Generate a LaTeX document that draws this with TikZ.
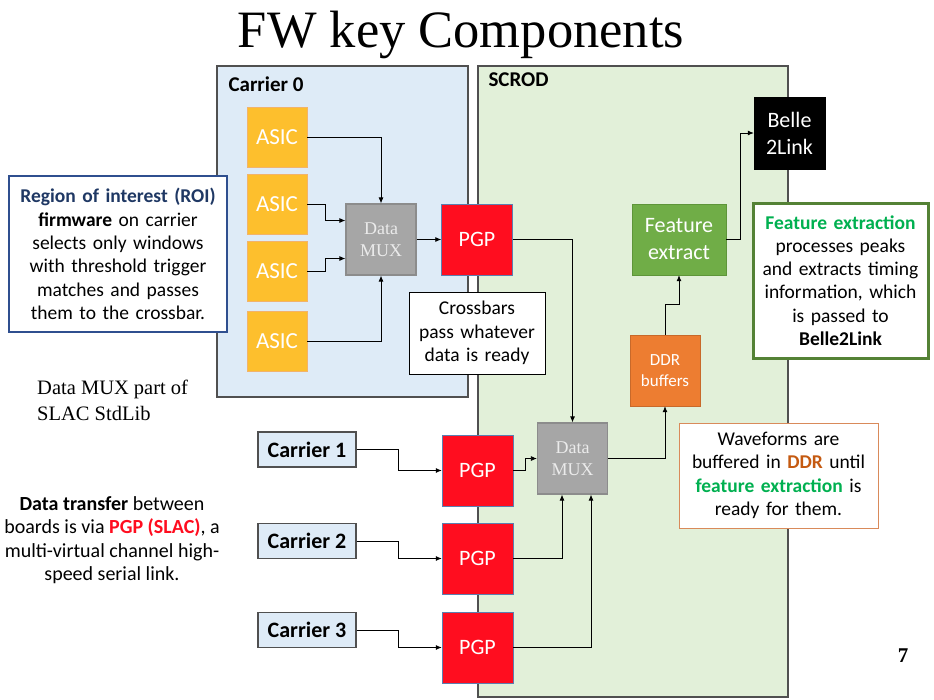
\documentclass[tikz,border=0pt]{standalone}
\usepackage{fontspec}
\setmainfont{Carlito}
\newfontfamily\serifrm{Liberation Serif}
\usetikzlibrary{arrows.meta}
\definecolor{carrierblue}{HTML}{DEEBF7}
\definecolor{scrodgreen}{HTML}{E2F0D9}
\definecolor{frameedge}{HTML}{505050}
\definecolor{asicorange}{HTML}{FDBF2D}
\definecolor{asicedge}{HTML}{F2B36A}
\definecolor{muxgray}{HTML}{A6A6A6}
\definecolor{muxedge}{HTML}{8C8C8C}
\definecolor{pgpred}{HTML}{FF0D1F}
\definecolor{pgpedge}{HTML}{5B7FB0}
\definecolor{ddrorange}{HTML}{ED7D31}
\definecolor{ddredge}{HTML}{C8692A}
\definecolor{fegreen}{HTML}{70AD47}
\definecolor{feedge}{HTML}{5E9539}
\definecolor{roiblue}{HTML}{1F3864}
\definecolor{roiedge}{HTML}{2F4F8F}
\definecolor{notegreen}{HTML}{00B050}
\definecolor{noteedge}{HTML}{548235}
\definecolor{wavedge}{HTML}{D98A5A}
\definecolor{ddrtext}{HTML}{C55A11}
\definecolor{pgptext}{HTML}{FF0D1F}
\tikzset{
  fwbox/.style={
    draw,
    inner sep=0pt,
    align=center,
    text=white,
    font=\fontsize{22}{27}\selectfont
  },
  asicbox/.style={
    fwbox,
    fill=asicorange,
    draw=asicedge,
    minimum width=60pt,
    minimum height=60pt,
    font=\fontsize{23}{27}\selectfont
  },
  muxbox/.style={
    fwbox,
    fill=muxgray,
    draw=muxedge,
    line width=1.2pt,
    text=white!92!black,
    minimum width=70pt,
    minimum height=71pt,
    font=\serifrm\fontsize{18}{21.5}\selectfont
  },
  pgpbox/.style={
    fwbox,
    fill=pgpred,
    draw=pgpedge,
    minimum width=71pt,
    minimum height=71pt
  },
  carrierbox/.style={
    fwbox,
    fill=carrierblue,
    draw=frameedge,
    line width=1.2pt,
    text=black,
    minimum width=98pt,
    minimum height=35pt,
    font=\bfseries\fontsize{22}{27}\selectfont
  },
  notebox/.style={
    draw=black,
    fill=white,
    align=center,
    inner xsep=3pt,
    inner ysep=0pt,
    font=\fontsize{19.5}{23.3}\selectfont
  },
  framebox/.style={
    draw=frameedge,
    line width=1.2pt
  },
  flowarrow/.style={
    -{Latex[length=6pt,width=5pt]},
    line width=0.8pt,
    draw=black
  }
}
\begin{document}
\begin{tikzpicture}[x=1pt, y=-1pt]
    \useasboundingbox[fill=white] (0,0) rectangle (934,699);

    \node[anchor=base, font=\serifrm\fontsize{52.5}{56}\selectfont] (title) at (461,47) {FW key Components};

    \draw[framebox, fill=carrierblue] (217,66) rectangle (468,397);
    \draw[framebox, fill=scrodgreen] (478,66) rectangle (788,697);
    \node[anchor=west, font=\bfseries\fontsize{21}{25}\selectfont] (c0label) at (225,84) {Carrier 0};
    \node[anchor=west, font=\bfseries\fontsize{21}{25}\selectfont] (scrodlabel) at (485,80) {SCROD};

    \node[asicbox] (asic1) at (277,137) {ASIC};
    \node[asicbox] (asic2) at (277,204) {ASIC};
    \node[asicbox] (asic3) at (277,271.5) {ASIC};
    \node[asicbox] (asic4) at (277,341) {ASIC};
    \node[muxbox] (muxa) at (381,239.5) {Data\\MUX};
    \node[pgpbox] (pgpa) at (477,239.5) {PGP};

    \node[muxbox] (muxb) at (572.5,458.5) {Data\\MUX};
    \node[pgpbox] (pgpb) at (477.5,470.5) {PGP};
    \node[pgpbox] (pgpc) at (477.5,558.5) {PGP};
    \node[pgpbox] (pgpd) at (477.5,647.5) {PGP};
    \node[carrierbox] (car1) at (307,449.5) {Carrier 1};
    \node[carrierbox] (car2) at (307,541) {Carrier 2};
    \node[carrierbox] (car3) at (307,630) {Carrier 3};

    \node[fwbox, fill=ddrorange, draw=ddredge, minimum width=70pt, minimum height=71pt,
          font=\fontsize{17}{21}\selectfont] (ddr) at (665,370.5) {DDR\\buffers};
    \node[fwbox, fill=fegreen, draw=feedge, minimum width=94pt, minimum height=71pt] (fe) at (679,239.5) {Feature\\extract};
    \node[fwbox, fill=black, draw=black, minimum width=71pt, minimum height=72pt] (belle) at (789.5,133) {Belle\\2Link};

    \node[notebox, text width=130pt, minimum height=82pt, line width=1pt] (xbar) at (477,333)
        {Crossbars\\pass whatever\\data is ready};
    \node[notebox, draw=roiedge, line width=1.6pt, text width=212pt, minimum height=156pt] (roi) at (118,254)
        {\textcolor{roiblue}{\textbf{Region of interest (ROI)}}\\\textbf{firmware} on carrier\\selects only windows\\with threshold trigger\\matches and passes\\them to the crossbar.};
    \node[notebox, draw=noteedge, line width=3pt, text width=169pt, minimum height=155pt] (fenote) at (840.5,280.5)
        {\textcolor{notegreen}{\textbf{Feature extraction}}\\processes peaks\\and extracts timing\\information, which\\is passed to\\\textbf{Belle2Link}};
    \node[notebox, draw=wavedge, line width=1pt, text width=193pt, minimum height=105pt] (wavenote) at (778.5,475.5)
        {Waveforms are\\buffered in \textcolor{ddrtext}{\textbf{DDR}} until\\\textcolor{notegreen}{\textbf{feature extraction}} is\\ready for them.};

    \node[anchor=north west, align=left, inner sep=0pt, font=\serifrm\fontsize{20.5}{26}\selectfont] (muxnote) at (37,380)
        {Data MUX part of\\SLAC StdLib};
    \node[align=center, inner sep=0pt, font=\fontsize{20}{23.5}\selectfont] (pgpnote) at (112,540)
        {\textbf{Data transfer} between\\boards is via \textcolor{pgptext}{\textbf{PGP (SLAC)}}, a\\multi-virtual channel high-\\speed serial link.};
    \node[anchor=base, font=\serifrm\bfseries\fontsize{21}{24}\selectfont] (pagenum) at (903,662) {7};

    \draw[flowarrow] (asic1.east) -| (muxa.north);
    \draw[flowarrow] (asic2.east) -- ++(18,0) |- ([yshift=19pt]muxa.west);
    \draw[flowarrow] (asic3.east) -- ++(18,0) |- ([yshift=-19pt]muxa.west);
    \draw[flowarrow] (asic4.east) -| (muxa.south);
    \draw[flowarrow] (muxa) -- (pgpa);
    \draw[flowarrow] (pgpa.east) -| (muxb.north);
    \draw[flowarrow] (car1.east) -- ++(42,0) |- (pgpb.west);
    \draw[flowarrow] (car2.east) -- ++(42,0) |- (pgpc.west);
    \draw[flowarrow] (car3.east) -- ++(42,0) |- (pgpd.west);
    \draw[flowarrow] (pgpb.east) -- ++(12,0) |- (muxb.west);
    \draw[flowarrow] (pgpc.east) -| ([xshift=-10.5pt]muxb.south);
    \draw[flowarrow] (pgpd.east) -| ([xshift=18.5pt]muxb.south);
    \draw[flowarrow] (muxb.east) -| (ddr.south);
    \draw[flowarrow] (ddr.north) -- ++(0,-30) -| (fe.south);
    \draw[flowarrow] (fe.east) -- ++(14,0) |- (belle.west);
\end{tikzpicture}
\end{document}
